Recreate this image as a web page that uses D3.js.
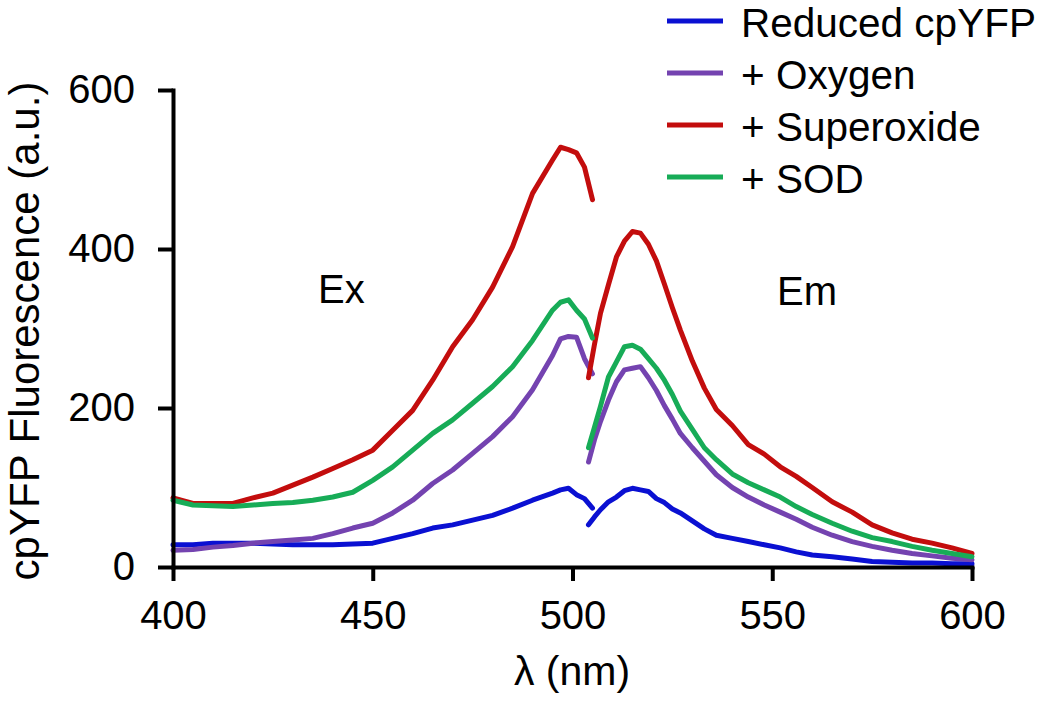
<!DOCTYPE html>
<html>
<head>
<meta charset="utf-8">
<script src="https://cdn.jsdelivr.net/npm/d3@7"></script>
<style>
  html, body { margin: 0; padding: 0; background: #fff; }
  svg text { font-family: "Liberation Sans", Arial, sans-serif; fill: #000; }
</style>
</head>
<body>
<svg id="chart" width="1050" height="705"></svg>
<script>
// ---- data ----
const exLambda = [400,405,410,415,420,425,430,435,440,445,450,455,460,465,470,475,480,485,490,495,497,499,501,503,505];
const emLambda = [504,505.5,507,509,511,513,515,517,519,521,523,525,527,530,533,536,540,544,548,552,556,560,565,570,575,580,585,590,595,600];

const seriesNames = ["Reduced cpYFP", "+ Oxygen", "+ Superoxide", "+ SOD"];
const seriesColors = ["#0a10d2", "#7443b0", "#c30d0d", "#17ac57"];

const reducedEx = [28,28,30,30,30,29,28,28,28,29,30,36,42,49,53,59,65,74,84,93,97,99,91,86,74];
const reducedEm = [53,63,72,82,88,96,99,97,95,86,81,73,68,58,48,40,36,32,28,24,19,15,13,10,7,6,5,5,4,4];

const oxygenEx = [21,22,25,27,30,32,34,36,42,49,55,68,84,105,122,143,164,189,223,266,287,290,289,262,243];
const oxygenEm = [132,160,183,210,233,248,250,252,238,222,203,186,168,150,133,116,100,88,78,69,60,50,40,32,26,21,17,14,11,9];

const superoxideEx = [87,80,80,80,87,93,103,113,124,135,147,172,197,235,277,311,352,403,470,512,528,525,521,503,462];
const superoxideEm = [238,280,319,355,390,410,422,420,406,385,356,326,298,259,225,198,178,154,142,126,114,100,82,69,53,43,35,30,24,17];

const sodEx = [84,78,77,76,78,80,81,84,88,94,109,126,147,168,185,206,227,252,285,323,333,336,323,312,288];
const sodEm = [150,176,202,239,258,277,279,274,262,250,235,217,196,173,150,135,117,106,97,88,76,66,55,45,37,32,26,21,17,13];

const xTicks = [400,450,500,550,600];
const yTicks = [0,200,400,600];

const seriesEx = [reducedEx, oxygenEx, superoxideEx, sodEx];
const seriesEm = [reducedEm, oxygenEm, superoxideEm, sodEm];

// ---- chart ----
const svg = d3.select("#chart");
const x = d3.scaleLinear().domain([400, 600]).range([173, 972]);
const y = d3.scaleLinear().domain([0, 600]).range([567, 90]);

const line = d3.line().x(d => x(d[0])).y(d => y(d[1])).curve(d3.curveLinear);

const plot = svg.append("g");
seriesNames.forEach((name, i) => {
  const ex = exLambda.map((l, j) => [l, seriesEx[i][j]]);
  const em = emLambda.map((l, j) => [l, seriesEm[i][j]]);
  [ex, em].forEach(seg => {
    plot.append("path")
      .datum(seg)
      .attr("d", line)
      .attr("fill", "none")
      .attr("stroke", seriesColors[i])
      .attr("stroke-width", 5)
      .attr("stroke-linejoin", "round")
      .attr("stroke-linecap", "round");
  });
});

// axes
const xAxis = svg.append("g")
  .attr("transform", `translate(0,${y(0)})`)
  .call(d3.axisBottom(x).tickValues(xTicks).tickSize(14).tickSizeOuter(0).tickPadding(20));
const yAxis = svg.append("g")
  .attr("transform", `translate(${x(400)},0)`)
  .call(d3.axisLeft(y).tickValues(yTicks).tickSize(15).tickSizeOuter(0).tickPadding(23));

[xAxis, yAxis].forEach(a => {
  a.select(".domain").attr("stroke", "#000").attr("stroke-width", 4).attr("stroke-linecap", "square");
  a.selectAll(".tick line").attr("stroke", "#000").attr("stroke-width", 4);
  a.selectAll(".tick text").attr("font-size", 40).attr("font-family", "Liberation Sans, Arial, sans-serif").attr("fill", "#000");
});

// axis titles
svg.append("text")
  .attr("x", 572).attr("y", 685)
  .attr("text-anchor", "middle")
  .attr("font-size", 41)
  .text("λ (nm)");

svg.append("text")
  .attr("transform", "translate(39,331) rotate(-90)")
  .attr("text-anchor", "middle")
  .attr("font-size", 42)
  .text("cpYFP Fluorescence (a.u.)");

// annotations
svg.append("text").attr("x", 318).attr("y", 303).attr("font-size", 40).text("Ex");
svg.append("text").attr("x", 777).attr("y", 305).attr("font-size", 40).text("Em");

// legend
const legend = svg.append("g");
seriesNames.forEach((name, i) => {
  const yy = 21 + i * 52;
  legend.append("line")
    .attr("x1", 667).attr("x2", 723).attr("y1", yy).attr("y2", yy)
    .attr("stroke", seriesColors[i]).attr("stroke-width", 5);
  legend.append("text")
    .attr("x", 741).attr("y", yy + 16)
    .attr("font-size", 40.5)
    .text(name);
});
</script>
</body>
</html>
